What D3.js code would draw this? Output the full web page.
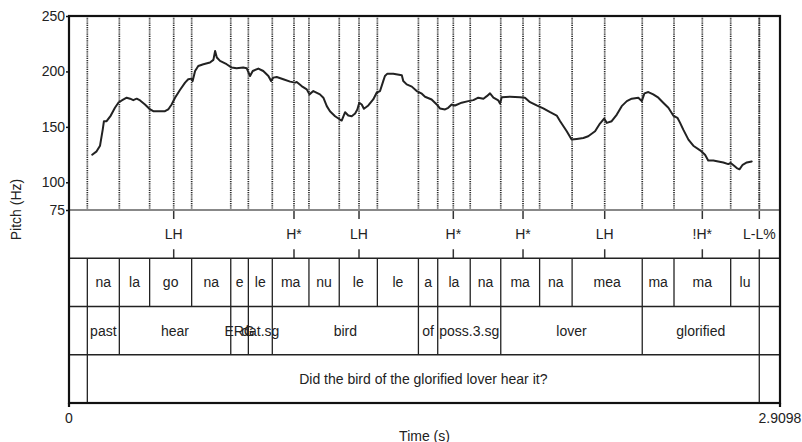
<!DOCTYPE html>
<html>
<head>
<meta charset="utf-8">
<script src="https://cdn.jsdelivr.net/npm/d3@7"></script>
<style>
  html, body { margin: 0; padding: 0; background: #fff; }
  svg { display: block; }
  text { font-family: "Liberation Sans", Arial, Helvetica, sans-serif; font-size: 14px; fill: #222; }
</style>
</head>
<body>
<div id="chart"></div>
<script>
// Pitch track (time in s, F0 in Hz)
const pitchTimes = [
  0.095,0.113,0.127,0.138,0.143,0.154,0.171,0.188,0.202,0.216,
  0.236,0.250,0.263,0.277,0.291,0.311,0.332,0.345,0.393,0.406,
  0.420,0.434,0.454,0.475,0.488,0.502,0.506,0.516,0.529,0.550,
  0.577,0.591,0.598,0.605,0.618,0.645,0.666,0.686,0.713,0.727,
  0.741,0.752,0.775,0.795,0.816,0.827,0.836,0.850,0.877,0.905,
  0.925,0.932,0.952,0.973,0.984,1.000,1.027,1.041,1.055,1.068,
  1.089,1.109,1.116,1.130,1.143,1.157,1.171,1.180,1.188,1.198,
  1.207,1.225,1.245,1.259,1.273,1.286,1.293,1.303,1.327,1.362,
  1.368,1.382,1.403,1.423,1.444,1.457,1.484,1.505,1.518,1.539,
  1.552,1.566,1.580,1.607,1.634,1.655,1.675,1.696,1.710,1.723,
  1.737,1.757,1.764,1.771,1.805,1.846,1.866,1.887,1.914,1.941,
  1.969,1.996,2.010,2.037,2.057,2.078,2.105,2.125,2.153,2.173,
  2.190,2.201,2.221,2.242,2.262,2.283,2.303,2.330,2.344,2.355,
  2.371,2.391,2.412,2.432,2.453,2.473,2.490,2.501,2.514,2.535,
  2.555,2.583,2.603,2.616,2.637,2.657,2.678,2.698,2.708,2.722,
  2.733,2.744,2.757,2.774,2.794
];
const pitchHz = [
  124.9,127.9,133.0,147.5,155.1,155.1,160.2,167.2,171.8,173.8,
  176.3,175.4,174.1,175.4,173.8,170.2,165.7,164.1,164.1,165.7,
  170.2,176.3,183.2,189.9,192.9,193.5,191.3,200.4,204.9,206.5,
  208.0,210.4,218.5,212.6,209.5,206.5,203.5,202.9,203.5,202.9,
  195.9,200.4,202.6,200.4,195.9,191.3,194.4,195.0,192.9,190.8,
  189.9,190.4,186.8,183.8,179.3,182.3,179.3,176.3,168.7,164.1,
  159.6,156.6,155.7,163.2,160.2,159.6,162.1,165.7,171.8,170.2,
  166.3,169.3,174.7,180.8,182.3,191.3,195.9,198.0,198.0,196.5,
  191.3,188.3,186.3,182.3,179.9,177.2,174.7,170.2,166.6,165.7,
  167.2,170.2,169.3,171.8,173.2,174.1,176.3,175.4,177.7,180.2,
  176.3,173.8,171.1,176.8,177.2,176.8,176.3,172.3,169.3,166.6,
  163.2,160.2,155.1,146.0,138.5,139.1,140.0,141.5,146.0,153.0,
  157.5,153.6,155.1,161.1,168.7,173.2,175.4,176.3,173.2,180.2,
  181.4,179.3,176.3,171.8,167.2,160.2,158.2,153.6,147.5,138.5,
  133.0,128.8,124.9,119.7,119.7,118.8,117.9,116.4,117.4,114.9,
  112.8,111.7,115.8,117.9,118.8
];

// Axis ranges and tick labels
const timeDomain = [0, 2.9098];
const pitchDomain = [75, 250];
const pitchTicks = [75, 100, 150, 200, 250];
const timeTickLabels = ["0", "2.9098"];

// Tone tier (point tier)
const toneTimes = [0.4285, 0.9208, 1.1869, 1.5728, 1.8581, 2.1924, 2.5919, 2.8252];
const toneLabels = ["LH", "H*", "LH", "H*", "H*", "LH", "!H*", "L-L%"];

// Syllable tier (interval boundaries + labels)
const syllableBounds = [0.075, 0.206, 0.330, 0.502, 0.662, 0.734, 0.832, 0.982, 1.106, 1.262,
                        1.430, 1.509, 1.642, 1.767, 1.926, 2.059, 2.346, 2.476, 2.708, 2.825];
const syllableLabels = ["na", "la", "go", "na", "e", "le", "ma", "nu", "le", "le",
                        "a", "la", "na", "ma", "na", "mea", "ma", "ma", "lu"];

// Gloss tier
const glossBounds = [0.075, 0.206, 0.662, 0.734, 0.832, 1.430, 1.509, 1.767, 2.346, 2.825];
const glossLabels = ["past", "hear", "ERG", "dat.sg", "bird", "of", "poss.3.sg", "lover", "glorified"];

// Translation tier
const sentenceBounds = [0.075, 2.825];
const sentenceLabels = ["Did the bird of the glorified lover hear it?"];

(function draw() {
  const W = 802, H = 442;
  const frameLeft = 69, frameRight = 780, frameTop = 16, frameBottom = 403;
  const pitchBottom = 210;
  const tierH = (frameBottom - pitchBottom) / 4;

  const svg = d3.select("#chart").append("svg")
    .attr("width", W).attr("height", H);

  const x = d3.scaleLinear().domain(timeDomain).range([frameLeft, frameRight]);
  const y = d3.scaleLinear().domain(pitchDomain).range([pitchBottom, frameTop]);

  // Dotted guide lines at every syllable boundary and tone point
  const guideTimes = Array.from(new Set(syllableBounds.concat(toneTimes)));
  svg.append("g").selectAll("line").data(guideTimes).join("line")
    .attr("x1", d => x(d)).attr("x2", d => x(d))
    .attr("y1", frameTop).attr("y2", pitchBottom)
    .attr("stroke", "#2a2a2a").attr("stroke-width", 1.7)
    .attr("stroke-dasharray", "1.2,1");

  // Pitch contour
  const pitchData = pitchTimes.map((t, i) => [t, pitchHz[i]]);
  svg.append("path")
    .datum(pitchData)
    .attr("fill", "none")
    .attr("stroke", "#222")
    .attr("stroke-width", 2)
    .attr("stroke-linejoin", "round")
    .attr("stroke-linecap", "round")
    .attr("d", d3.line().x(d => x(d[0])).y(d => y(d[1])));

  // Y axis (pitch)
  const yAxis = d3.axisLeft(y).tickValues(pitchTicks).tickSize(3).tickPadding(1).tickFormat(d3.format("d"));
  const yg = svg.append("g").attr("transform", `translate(${frameLeft},0)`).call(yAxis);
  yg.select(".domain").remove();
  yg.selectAll(".tick line").attr("stroke", "#111").attr("stroke-width", 1.5);
  yg.selectAll(".tick text").attr("font-size", 14).attr("font-family", null).attr("fill", "#222");

  svg.append("text")
    .attr("transform", `translate(21,${(frameTop + frameBottom) / 2}) rotate(-90)`)
    .attr("text-anchor", "middle")
    .text("Pitch (Hz)");

  const tierTop = i => pitchBottom + i * tierH;

  // Tone tier: point marks with labels
  const tg = svg.append("g");
  toneTimes.forEach((t, i) => {
    const cx = x(t);
    tg.append("line").attr("x1", cx).attr("x2", cx)
      .attr("y1", tierTop(0)).attr("y2", tierTop(0) + 9)
      .attr("stroke", "#333").attr("stroke-width", 1.5);
    tg.append("line").attr("x1", cx).attr("x2", cx)
      .attr("y1", tierTop(1) - 9).attr("y2", tierTop(1))
      .attr("stroke", "#333").attr("stroke-width", 1.5);
    tg.append("text").attr("x", cx).attr("y", tierTop(0) + tierH / 2 + 5)
      .attr("text-anchor", "middle").text(toneLabels[i]);
  });

  // Interval tiers
  function drawIntervalTier(row, bounds, labels) {
    const g = svg.append("g");
    const y0 = tierTop(row), y1 = tierTop(row + 1);
    g.selectAll("line").data(bounds).join("line")
      .attr("x1", d => x(d)).attr("x2", d => x(d))
      .attr("y1", y0).attr("y2", y1)
      .attr("stroke", "#222").attr("stroke-width", 1.3);
    g.selectAll("text").data(labels).join("text")
      .attr("x", (d, i) => (x(bounds[i]) + x(bounds[i + 1])) / 2)
      .attr("y", (y0 + y1) / 2 + 5)
      .attr("text-anchor", "middle")
      .text(d => d);
  }
  drawIntervalTier(1, syllableBounds, syllableLabels);
  drawIntervalTier(2, glossBounds, glossLabels);
  drawIntervalTier(3, sentenceBounds, sentenceLabels);

  // Horizontal tier separators
  svg.append("line").attr("x1", frameLeft).attr("x2", frameRight)
    .attr("y1", pitchBottom).attr("y2", pitchBottom)
    .attr("stroke", "#888").attr("stroke-width", 2);
  [1, 2, 3].forEach(i => {
    svg.append("line").attr("x1", frameLeft).attr("x2", frameRight)
      .attr("y1", tierTop(i)).attr("y2", tierTop(i))
      .attr("stroke", "#222").attr("stroke-width", 1.6);
  });

  // Outer frame
  svg.append("rect")
    .attr("x", frameLeft).attr("y", frameTop)
    .attr("width", frameRight - frameLeft).attr("height", frameBottom - frameTop)
    .attr("fill", "none").attr("stroke", "#111").attr("stroke-width", 2.2);

  // Time axis end ticks and labels
  const xg = svg.append("g");
  timeDomain.forEach((t, i) => {
    xg.append("line").attr("x1", x(t)).attr("x2", x(t))
      .attr("y1", frameBottom).attr("y2", frameBottom + 4)
      .attr("stroke", "#111").attr("stroke-width", 2.2);
    xg.append("text").attr("x", x(t)).attr("y", 422.5)
      .attr("text-anchor", "middle").text(timeTickLabels[i]);
  });
  svg.append("text")
    .attr("x", (frameLeft + frameRight) / 2).attr("y", 440.5)
    .attr("text-anchor", "middle").text("Time (s)");
})();
</script>
</body>
</html>
